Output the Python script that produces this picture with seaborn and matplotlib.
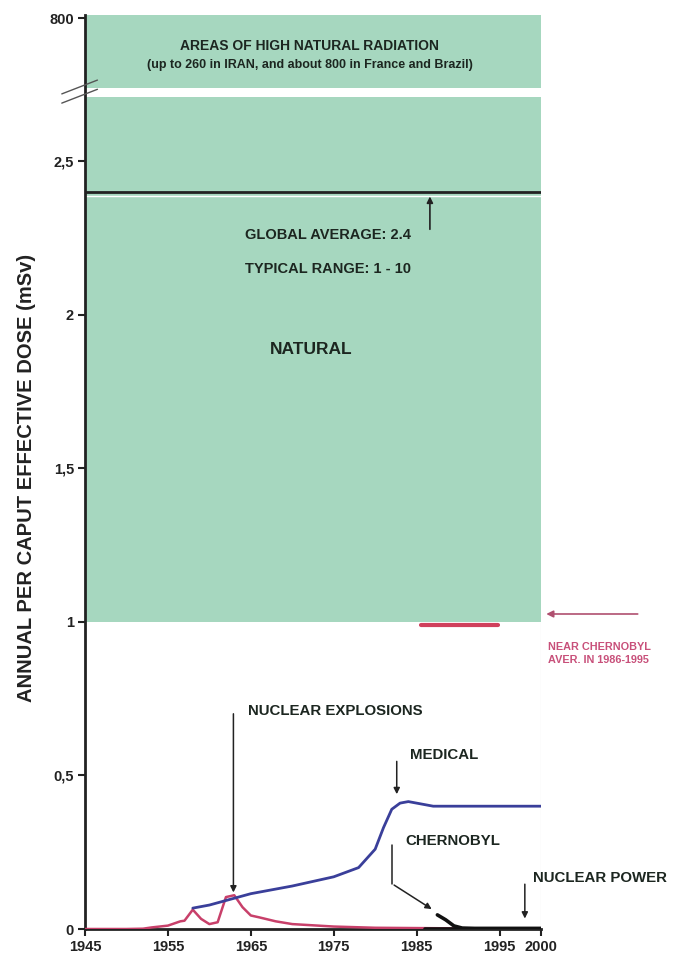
import matplotlib
matplotlib.use("Agg")
import matplotlib.pyplot as plt
import numpy as np
import pandas as pd
import seaborn as sns

# ─── Data ─────────────────────────────────────────────────────────────────────
medical_years = [1958, 1960, 1965, 1970, 1975, 1978, 1980, 1981, 1982, 1983,
                 1984, 1985, 1987, 1990, 1995, 2000]
medical_dose = [0.068, 0.078, 0.115, 0.14, 0.17, 0.20, 0.26, 0.33, 0.39, 0.41,
                0.415, 0.41, 0.40, 0.40, 0.40, 0.40]

explosion_years = [1945, 1950, 1952, 1953, 1955, 1956.5, 1957, 1958, 1959, 1960,
                   1961, 1962, 1963, 1964, 1965, 1966, 1968, 1970, 1975, 1980,
                   1985, 1990]
explosion_dose = [0.0, 0.0, 0.001, 0.005, 0.011, 0.025, 0.027, 0.063, 0.033,
                  0.016, 0.022, 0.104, 0.11, 0.071, 0.044, 0.038, 0.025, 0.016,
                  0.008, 0.004, 0.003, 0.002]

chernobyl_years = [1987.5, 1988.5, 1989.5, 1990.5, 1992, 2000]
chernobyl_dose = [0.046, 0.03, 0.01, 0.003, 0.002, 0.002]

power_years = [1986, 1990, 1995, 2000]
power_dose = [0.001, 0.001, 0.001, 0.001]

near_chernobyl_years = [1985.5, 1994.8]
near_chernobyl_dose = [0.99, 0.99]

natural_floor = 1.0
global_average = 2.4

y_ticks = [0, 0.5, 1, 1.5, 2, 2.5]
y_tick_labels = ["0", "0,5", "1", "1,5", "2", "2,5"]
top_label = "800"
x_ticks = [1945, 1955, 1965, 1975, 1985, 1995, 2000]

# layout of the broken axis (display units)
TOP_POS = 2.967
BREAK_LO = 2.71
BREAK_HI = 2.739
AXIS_TOP = 2.977

GREEN = "#a6d7bf"
TEXT = "#1c2620"
PINK = "#c8406a"
BLUE = "#3a3f9a"

sns.set_theme(style="white")
plt.rcParams["font.family"] = ["Liberation Sans", "DejaVu Sans"]

fig = plt.figure(figsize=(6.78, 9.63), dpi=100)
ax = fig.add_axes([85 / 678, 34 / 963, 456 / 678, 914 / 963])

# natural background bands
ax.axhspan(natural_floor, BREAK_LO, color=GREEN, lw=0, zorder=0)
ax.axhspan(BREAK_HI, AXIS_TOP, color=GREEN, lw=0, zorder=0)

# global average line
ax.axhline(global_average, color="#222222", lw=2, zorder=2)
ax.axhline(global_average - 0.012, color="white", lw=1, zorder=2)

# right border of the plot area below natural band
ax.plot([2000, 2000], [0, natural_floor], color="#cccccc", lw=0.8, zorder=1)

# curves
sns.lineplot(x=explosion_years, y=explosion_dose, color=PINK, lw=1.8, ax=ax, zorder=3)
sns.lineplot(x=medical_years, y=medical_dose, color=BLUE, lw=2, ax=ax, zorder=4)
sns.lineplot(x=chernobyl_years, y=chernobyl_dose, color="#111111", lw=2.6, ax=ax, zorder=4)
sns.lineplot(x=power_years, y=power_dose, color="#111111", lw=2.6, ax=ax, zorder=4)

# near-Chernobyl average
sns.lineplot(x=near_chernobyl_years, y=near_chernobyl_dose, color="#d0405c", lw=3,
             ax=ax, zorder=4)
ax.annotate("", xy=(2000.3, 1.026), xytext=(2012, 1.026), annotation_clip=False,
            arrowprops=dict(arrowstyle="-|>", color="#b05070", lw=1.2,
                            mutation_scale=10))
ax.text(2000.8, 0.935, "NEAR CHERNOBYL\nAVER. IN 1986-1995", color="#c8507a",
        fontsize=7.8, fontweight="bold", va="top", ha="left", linespacing=1.35,
        clip_on=False)

# annotations
bold = dict(fontweight="bold", color=TEXT)
ax.text(1972.1, 2.875, "AREAS OF HIGH NATURAL RADIATION", ha="center", va="center",
        fontsize=10, **bold)
ax.text(1972.1, 2.815, "(up to 260 in IRAN, and about 800 in France and Brazil)",
        ha="center", va="center", fontsize=9, **bold)
ax.annotate("", xy=(1986.6, 2.395), xytext=(1986.6, 2.27),
            arrowprops=dict(arrowstyle="-|>", color="#222222", lw=1.2, mutation_scale=9))
ax.text(1964.3, 2.26, "GLOBAL AVERAGE: 2.4", fontsize=10.5, va="center", **bold)
ax.text(1964.3, 2.15, "TYPICAL RANGE: 1 - 10", fontsize=10.5, va="center", **bold)
ax.text(1967.3, 1.886, "NATURAL", fontsize=12.5, va="center", **bold)

arrow = dict(arrowstyle="-|>", color="#222222", lw=1.1, mutation_scale=9)
ax.annotate("", xy=(1962.9, 0.11), xytext=(1962.9, 0.71), arrowprops=arrow)
ax.text(1964.7, 0.71, "NUCLEAR EXPLOSIONS", fontsize=10.8, va="center", **bold)
ax.annotate("", xy=(1982.6, 0.43), xytext=(1982.6, 0.555), arrowprops=arrow)
ax.text(1984.2, 0.566, "MEDICAL", fontsize=10.8, va="center", **bold)
ax.plot([1982, 1982], [0.275, 0.148], color="#222222", lw=1.1)
ax.annotate("", xy=(1987.1, 0.06), xytext=(1982, 0.148), arrowprops=arrow)
ax.text(1983.7, 0.286, "CHERNOBYL", fontsize=10.8, va="center", **bold)
ax.annotate("", xy=(1998.05, 0.025), xytext=(1998.05, 0.155), arrowprops=arrow)
ax.text(1999.0, 0.165, "NUCLEAR POWER", fontsize=10.8, va="center", clip_on=False, **bold)

# axes styling
ax.set_xlim(1945, 2000)
ax.set_ylim(0, AXIS_TOP)
ax.set_xticks(x_ticks)
ax.set_xticklabels([str(x) for x in x_ticks], fontsize=10.5, fontweight="bold")
ax.set_yticks(y_ticks + [TOP_POS])
ax.set_yticklabels(y_tick_labels + [top_label], fontsize=10.5, fontweight="bold")
ax.tick_params(axis="both", direction="out", length=5, width=1.5, color="#222222",
               left=True, bottom=True, labelcolor="#222222", pad=3)
for side in ["top", "right"]:
    ax.spines[side].set_visible(False)
for side in ["left", "bottom"]:
    ax.spines[side].set_color("#222222")
    ax.spines[side].set_linewidth(2)
ax.set_xlabel("")
ax.set_ylabel("ANNUAL PER CAPUT EFFECTIVE DOSE (mSv)", fontsize=14.5,
              fontweight="bold", color="#222222")
ax.yaxis.set_label_coords(-0.108, 0.493)

# break marks on the y axis
for dy in (0.0, 0.03):
    ax.plot([1942.2, 1946.5], [2.69 + dy, 2.735 + dy], color="#555555", lw=1,
            clip_on=False, zorder=5)

fig.savefig("out.png", dpi=100)
